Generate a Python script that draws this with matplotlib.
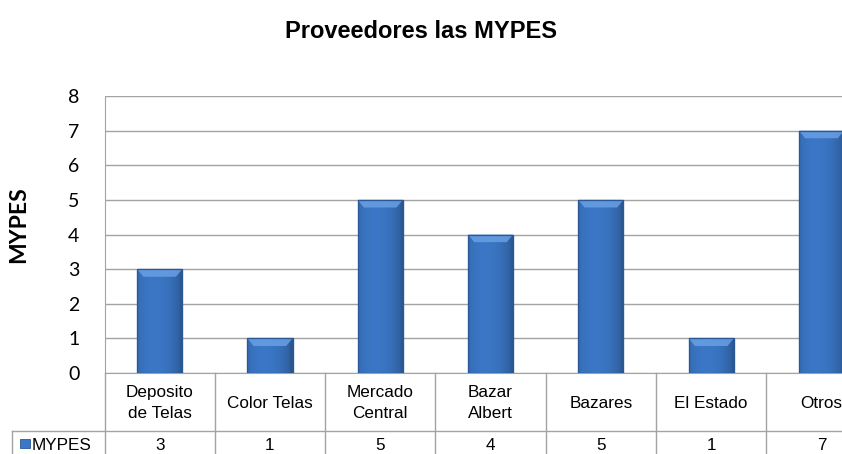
import matplotlib
matplotlib.use("Agg")
import matplotlib.pyplot as plt
import numpy as np
from matplotlib.patches import Polygon, Rectangle
from matplotlib.transforms import blended_transform_factory

# ---- data ----
categories = ["Deposito\nde Telas", "Color Telas", "Mercado\nCentral", "Bazar\nAlbert",
              "Bazares", "El Estado", "Otros"]
values = [3, 1, 5, 4, 5, 1, 7]
series_name = "MYPES"
title = "Proveedores las MYPES"
y_ticks = [0, 1, 2, 3, 4, 5, 6, 7, 8]

W, H = 842, 454
fig = plt.figure(figsize=(W / 100, H / 100), dpi=100)
fig.patch.set_facecolor("white")

# axes geometry in pixels
ax_left_px, ax_bottom_px, ax_top_px = 104.5, 373, 96
cat_w_px = 110.3
ax = fig.add_axes([ax_left_px / W, (H - ax_bottom_px) / H,
                   len(categories) * cat_w_px / W, (ax_bottom_px - ax_top_px) / H])
ax.set_xlim(-0.5, len(categories) - 0.5)
ax.set_ylim(0, 8)

grid_c = "#A3A3A3"
x = np.arange(len(categories))
bars = ax.bar(x, values, width=0.41, color="#3B77C6", edgecolor="#2A5896",
              linewidth=0.8, zorder=3)

# gradient + bevel decoration derived from each bar
for b in bars:
    x0, w, h = b.get_x(), b.get_width(), b.get_height()
    prof = np.linspace(0, 1, 60)
    shade = 0.85 + 0.2 * np.sin(np.pi * np.clip(prof * 1.05, 0, 1)) ** 0.5 - 0.12 * prof
    base = np.array([0x3B, 0x77, 0xC6]) / 255.0
    img = np.clip(base[None, None, :] * shade[None, :, None], 0, 1)
    im = ax.imshow(img, extent=[x0, x0 + w, 0, h], aspect="auto", zorder=3.1,
                   interpolation="bilinear")
    im.set_clip_path(b)
    bev = 0.22
    d = w * 0.14
    top = Polygon([(x0, h), (x0 + w, h), (x0 + w - d, h - bev), (x0 + d, h - bev)],
                  closed=True, facecolor="#6CA2E6", edgecolor="none", alpha=0.8, zorder=3.2)
    ax.add_patch(top)
    ax.add_patch(Rectangle((x0, 0), w, h, facecolor="none", edgecolor="#2A5896",
                           linewidth=0.9, zorder=3.3))

ax.set_yticks(y_ticks)
ax.set_yticklabels([str(t) for t in y_ticks], fontsize=14, family=["Lato", "DejaVu Sans"])
ax.tick_params(axis="y", length=0, pad=18, colors="#000000")
ax.set_xticks([])
ax.yaxis.grid(True, color=grid_c, linewidth=1.0, zorder=0)
ax.set_axisbelow(True)
for s in ["top", "right"]:
    ax.spines[s].set_visible(False)
ax.spines["left"].set_color(grid_c)
ax.spines["bottom"].set_color(grid_c)

# ---- data table below the axes ----
def yf(px):
    return (ax_bottom_px - px) / (ax_bottom_px - ax_top_px)

def xd(px):
    return (px - ax_left_px) / cat_w_px - 0.5

tr = blended_transform_factory(ax.transData, ax.transAxes)
tfont = dict(family=["Liberation Sans", "DejaVu Sans"], fontsize=12.3, color="#000000")

y_hdr_bottom = yf(431)
y_low = yf(470)
for i in range(len(categories) + 1):
    ax.plot([i - 0.5, i - 0.5], [0, y_low], transform=tr, color=grid_c, lw=1.0,
            clip_on=False)
ax.plot([xd(12), len(categories) - 0.5], [y_hdr_bottom, y_hdr_bottom], transform=tr,
        color=grid_c, lw=1.0, clip_on=False)
ax.plot([xd(12), xd(12)], [y_hdr_bottom, y_low], transform=tr, color=grid_c, lw=1.0,
        clip_on=False)

for i, (c, v) in enumerate(zip(categories, values)):
    ax.text(i, yf(403), c, transform=tr, ha="center", va="center", linespacing=1.5,
            clip_on=False, **tfont)
    ax.text(i, yf(449.5), str(v), transform=tr, ha="center", va="baseline",
            clip_on=False, **tfont)

# legend key in table
ax.add_patch(Rectangle((xd(20), yf(448)), xd(30) - xd(20), yf(439) - yf(448), transform=tr,
                       facecolor="#3B77C6", edgecolor="#2A5896", lw=0.6, clip_on=False))
ax.text(xd(32), yf(449.5), series_name, transform=tr, ha="left", va="baseline",
        clip_on=False, **tfont)

# titles
fig.text(0.5, (H - 32) / H, title, ha="center", va="center", fontsize=17,
         fontweight="bold", family=["Liberation Sans", "DejaVu Sans"])
fig.text(19 / W, (H - 225) / H, "MYPES", rotation=90, ha="center", va="center",
         fontsize=16.5, fontweight="bold", family=["Lato", "DejaVu Sans"])

fig.savefig("out.png", dpi=100)
